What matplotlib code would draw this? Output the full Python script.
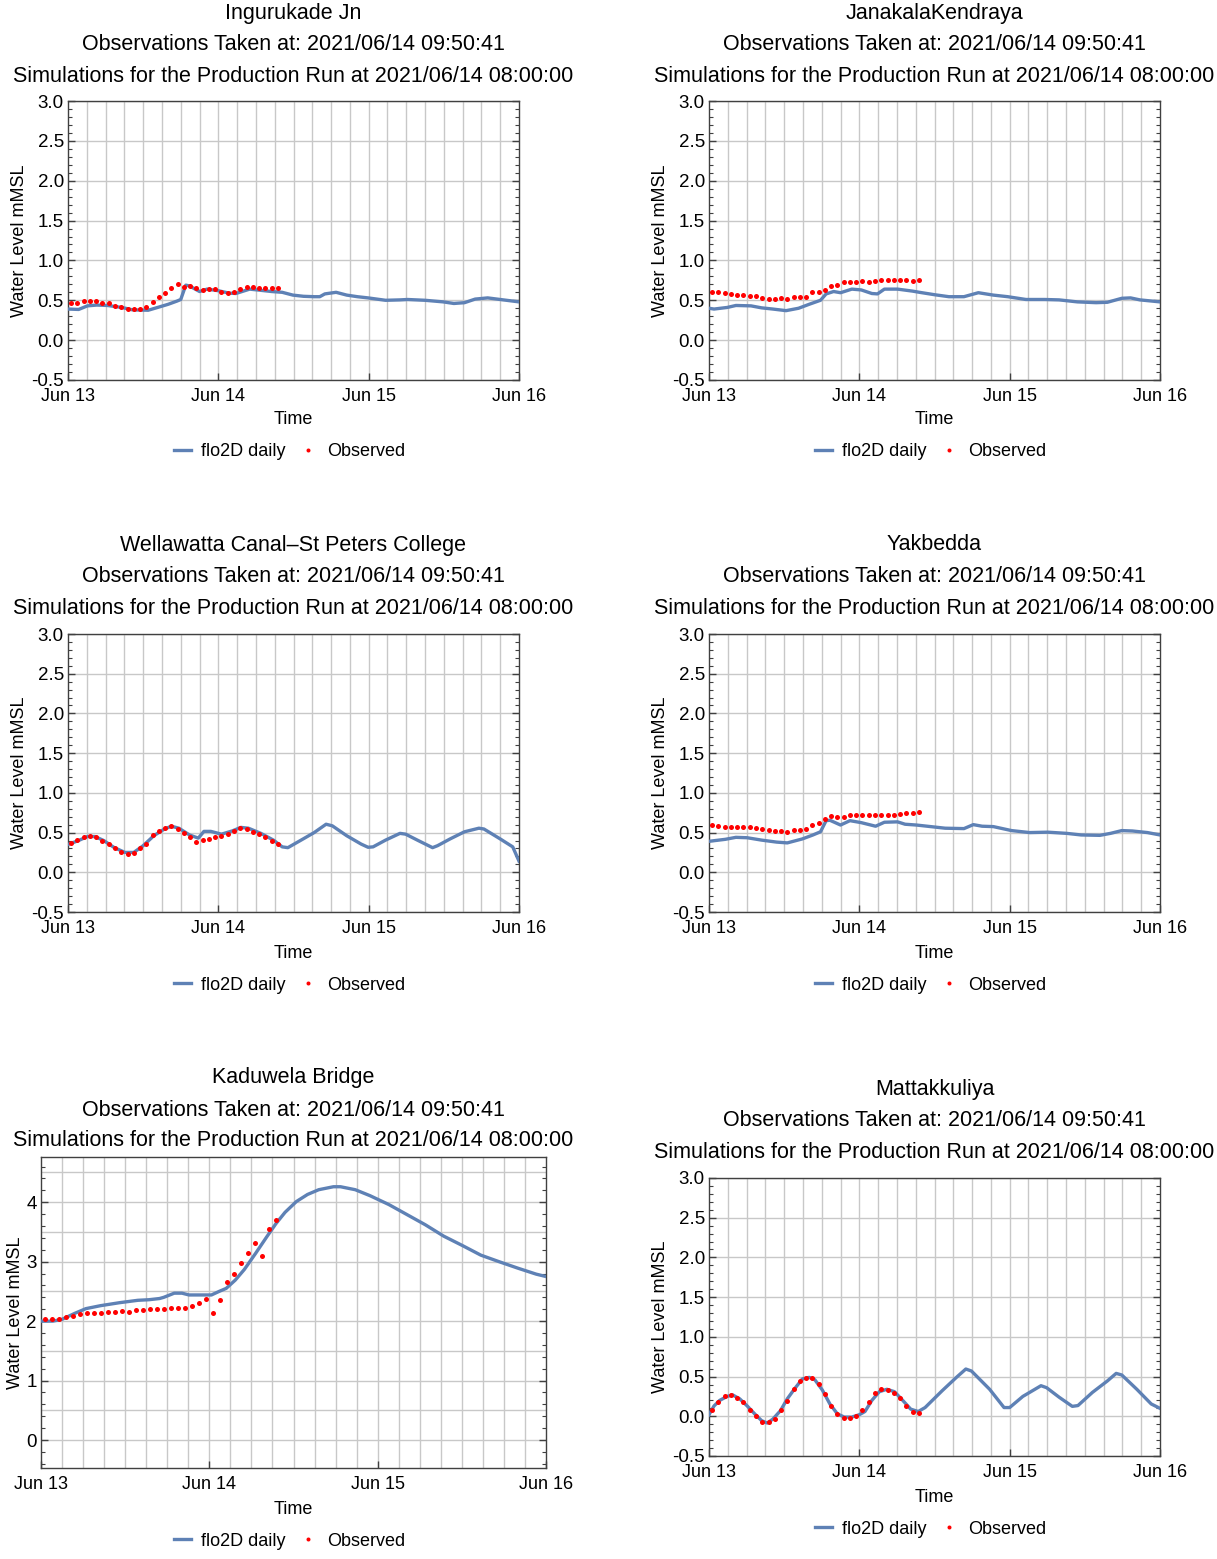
import numpy as np
import matplotlib
matplotlib.use('Agg')
import matplotlib.pyplot as plt
from matplotlib.ticker import MultipleLocator, FixedLocator, FormatStrFormatter

plt.rcParams['font.family'] = ['Liberation Sans', 'DejaVu Sans']

W, H = 1217, 1559

obs_taken = "Observations Taken at: 2021/06/14 09:50:41"
sim_run = "Simulations for the Production Run at 2021/06/14 08:00:00"
day_ticks = [0, 24, 48, 72]
day_labels = ["Jun 13", "Jun 14", "Jun 15", "Jun 16"]

# hourly observations, hours after Jun 13 00:00
obs_hours = np.arange(34) + 0.5

# ---- Ingurukade Jn
ing_sim_h = [0, 1.7, 3.1, 4.6, 6.3, 8.6, 10.3, 12.8, 14.3, 16, 17.4, 18, 18.8, 19.4, 21, 22.2, 24,
             25.7, 26.8, 29, 30.2, 32.5, 34.2, 35.9, 37.6, 39.3, 40.2, 41, 42.8, 44.5, 46.2, 47.9,
             50.7, 53, 54.2, 57, 59.9, 61.6, 63.3, 65, 67, 69, 72]
ing_sim = [0.39, 0.385, 0.43, 0.44, 0.435, 0.41, 0.38, 0.375, 0.41, 0.45, 0.49, 0.51, 0.69, 0.68,
           0.61, 0.64, 0.62, 0.59, 0.585, 0.64, 0.63, 0.61, 0.60, 0.565, 0.55, 0.545, 0.545, 0.58,
           0.60, 0.565, 0.545, 0.53, 0.50, 0.505, 0.51, 0.50, 0.48, 0.46, 0.47, 0.515, 0.53, 0.51, 0.48]
ing_obs = [0.47, 0.47, 0.49, 0.49, 0.49, 0.47, 0.46, 0.43, 0.41, 0.39, 0.39, 0.39, 0.42, 0.48,
           0.535, 0.59, 0.65, 0.70, 0.67, 0.68, 0.66, 0.63, 0.64, 0.64, 0.61, 0.59, 0.61, 0.64,
           0.67, 0.67, 0.66, 0.66, 0.65, 0.66]

# ---- JanakalaKendraya
jan_sim_h = [0, 0.8, 2.9, 4.3, 6.7, 8.4, 10.2, 12.3, 14.3, 16, 17.8, 18.7, 19.9, 21, 22.8, 24.3,
             26, 26.9, 28, 30.1, 32.5, 33.6, 36, 38.3, 40.7, 43, 45.4, 47.7, 50.6, 53.6, 55.9,
             58.8, 61.8, 63.6, 65.9, 67.3, 68.8, 72]
jan_sim = [0.40, 0.39, 0.41, 0.435, 0.43, 0.405, 0.39, 0.37, 0.40, 0.45, 0.50, 0.58, 0.61, 0.595,
           0.64, 0.63, 0.585, 0.58, 0.64, 0.64, 0.615, 0.60, 0.57, 0.545, 0.545, 0.595, 0.565,
           0.545, 0.51, 0.51, 0.505, 0.48, 0.47, 0.475, 0.525, 0.53, 0.505, 0.48]
jan_obs = [0.60, 0.60, 0.595, 0.585, 0.57, 0.565, 0.555, 0.555, 0.53, 0.515, 0.52, 0.525, 0.51,
           0.535, 0.535, 0.545, 0.60, 0.605, 0.635, 0.68, 0.695, 0.725, 0.73, 0.735, 0.74, 0.735,
           0.74, 0.75, 0.75, 0.755, 0.755, 0.755, 0.745, 0.76]

# ---- Wellawatta Canal-St Peters College
wel_sim_h = [0, 1.7, 3.1, 4.3, 5.7, 7.4, 9.1, 10.5, 12, 13.7, 15.4, 16.5, 17.7, 19.4, 20.8, 21.7,
             22.8, 24.5, 26.2, 27.6, 28.8, 30.8, 32.8, 34.2, 35.1, 37.1, 39.3, 41.2, 42.2, 44.5,
             46.8, 47.9, 48.7, 50.7, 53, 53.9, 55.9, 58.2, 59, 61, 63.3, 65.6, 66.4, 69, 71, 72]
wel_sim = [0.35, 0.40, 0.45, 0.45, 0.40, 0.31, 0.25, 0.25, 0.335, 0.46, 0.545, 0.58, 0.555, 0.47,
           0.43, 0.515, 0.515, 0.48, 0.52, 0.565, 0.555, 0.49, 0.405, 0.32, 0.31, 0.40, 0.50,
           0.605, 0.585, 0.46, 0.355, 0.315, 0.32, 0.405, 0.49, 0.48, 0.40, 0.31, 0.335, 0.42,
           0.51, 0.555, 0.545, 0.42, 0.32, 0.14]
wel_obs = [0.37, 0.41, 0.45, 0.455, 0.44, 0.40, 0.35, 0.30, 0.26, 0.235, 0.245, 0.31, 0.36, 0.47,
           0.52, 0.555, 0.585, 0.54, 0.49, 0.45, 0.385, 0.405, 0.415, 0.44, 0.455, 0.485, 0.52,
           0.555, 0.55, 0.51, 0.48, 0.44, 0.40, 0.355]

# ---- Yakbedda
yak_sim_h = [0, 2.6, 4.3, 6.1, 8.4, 10.8, 12.5, 14.9, 16.6, 17.8, 18.7, 19.3, 21, 22.5, 24.3,
             26.6, 28, 30.1, 31.3, 33.1, 35.4, 37.7, 40.7, 42.2, 43.6, 45.4, 48.3, 51.2, 54.1,
             57.1, 59.4, 62.4, 64.1, 65.9, 67.6, 70, 72]
yak_sim = [0.39, 0.415, 0.44, 0.435, 0.405, 0.38, 0.37, 0.42, 0.47, 0.51, 0.65, 0.655, 0.595,
           0.65, 0.625, 0.58, 0.63, 0.635, 0.605, 0.595, 0.575, 0.555, 0.55, 0.60, 0.58, 0.575,
           0.525, 0.50, 0.505, 0.49, 0.47, 0.465, 0.49, 0.525, 0.52, 0.50, 0.47]
yak_obs = [0.59, 0.58, 0.565, 0.565, 0.565, 0.565, 0.565, 0.555, 0.545, 0.53, 0.525, 0.515,
           0.51, 0.53, 0.535, 0.54, 0.595, 0.625, 0.67, 0.71, 0.69, 0.70, 0.725, 0.725, 0.725,
           0.725, 0.725, 0.725, 0.725, 0.725, 0.735, 0.745, 0.745, 0.76]

# ---- Kaduwela Bridge
kad_sim_h = [0, 1.7, 3, 4.8, 6.4, 8.5, 11.2, 13.8, 15.4, 16.9, 17.5, 19, 20.1, 21.1, 22.7, 24.3,
             25.4, 26.4, 27.7, 29, 30.6, 32.2, 33.5, 34.8, 36.4, 38, 39.6, 41.7, 42.7, 44.8, 46.9,
             49.6, 52.2, 54.8, 57.4, 60.1, 62.7, 65.3, 68, 70.6, 72]
kad_sim = [2.0, 2.0, 2.03, 2.13, 2.21, 2.26, 2.31, 2.35, 2.36, 2.38, 2.40, 2.47, 2.47, 2.44, 2.44,
           2.44, 2.50, 2.55, 2.69, 2.87, 3.14, 3.42, 3.64, 3.83, 4.01, 4.13, 4.21, 4.26, 4.26,
           4.21, 4.11, 3.96, 3.79, 3.62, 3.43, 3.27, 3.11, 3.00, 2.89, 2.79, 2.75]
kad_obs = [2.03, 2.03, 2.03, 2.07, 2.09, 2.12, 2.13, 2.13, 2.14, 2.15, 2.16, 2.17, 2.16, 2.18,
           2.18, 2.20, 2.20, 2.20, 2.22, 2.22, 2.22, 2.26, 2.30, 2.37, 2.13, 2.35, 2.66, 2.79,
           2.97, 3.14, 3.31, 3.09, 3.55, 3.70]

# ---- Mattakkuliya
mat_sim_h = [0, 0.8, 1.7, 2.9, 3.75, 4.9, 6.1, 7.3, 8.4, 9.3, 10.2, 11.4, 12.5, 13.7, 14.9, 16,
             16.9, 18.1, 19.3, 20.5, 21.6, 22.8, 24, 24.9, 26, 27.2, 28.4, 29.6, 30.7, 32.2, 33.4,
             34.5, 37.2, 39.5, 41, 41.9, 44.8, 47.1, 48, 50.1, 53, 53.9, 55.9, 58, 58.9, 61.2,
             63.6, 65, 65.9, 68.3, 70.6, 72]
mat_sim = [0.02, 0.13, 0.20, 0.25, 0.27, 0.22, 0.13, 0.03, -0.055, -0.085, -0.035, 0.07, 0.22,
           0.35, 0.47, 0.49, 0.46, 0.33, 0.155, 0.03, -0.01, -0.01, 0.02, 0.06, 0.20, 0.31, 0.34,
           0.31, 0.22, 0.09, 0.06, 0.11, 0.32, 0.49, 0.595, 0.57, 0.34, 0.11, 0.11, 0.25, 0.385,
           0.36, 0.24, 0.125, 0.135, 0.30, 0.445, 0.54, 0.52, 0.34, 0.155, 0.10]
mat_obs = [0.085, 0.185, 0.26, 0.27, 0.235, 0.175, 0.085, 0.0, -0.075, -0.075, -0.035, 0.085,
           0.195, 0.345, 0.44, 0.485, 0.48, 0.41, 0.285, 0.135, 0.03, -0.025, -0.025, 0.0, 0.085,
           0.185, 0.29, 0.345, 0.335, 0.29, 0.225, 0.135, 0.05, 0.04]

stations = [
    # name, sim hours, sim, obs, axes box px (x0, x1, y_top, y_bottom), title line ys, time y, legend y,
    # ylim, y major step, y minor step, grid step, tick format
    ("Ingurukade Jn", ing_sim_h, ing_sim, ing_obs, (68, 519, 101, 380), (13, 44, 76), 420, 452,
     (-0.5, 3.0), 0.5, 0.1, 0.5, '%.1f'),
    ("JanakalaKendraya", jan_sim_h, jan_sim, jan_obs, (709, 1160, 101, 380), (13, 44, 76), 420, 452,
     (-0.5, 3.0), 0.5, 0.1, 0.5, '%.1f'),
    ("Wellawatta Canal\u2013St Peters College", wel_sim_h, wel_sim, wel_obs, (68, 519, 634, 912),
     (545, 577, 609), 953, 985, (-0.5, 3.0), 0.5, 0.1, 0.5, '%.1f'),
    ("Yakbedda", yak_sim_h, yak_sim, yak_obs, (709, 1160, 634, 912), (545, 577, 609), 953, 985,
     (-0.5, 3.0), 0.5, 0.1, 0.5, '%.1f'),
    ("Kaduwela Bridge", kad_sim_h, kad_sim, kad_obs, (41, 546, 1157, 1468), (1078, 1110, 1141), 1509, 1541,
     (-0.47, 4.76), 1.0, 0.2, 0.5, '%d'),
    ("Mattakkuliya", mat_sim_h, mat_sim, mat_obs, (709, 1160, 1178, 1456), (1089, 1121, 1153), 1497, 1529,
     (-0.5, 3.0), 0.5, 0.1, 0.5, '%.1f'),
]

blue = '#5E81B5'
grid_col = '#c8c8c8'
frame_col = '#404040'

fig = plt.figure(figsize=(W / 100, H / 100), dpi=100)

for (name, sh, sv, ov, box, tys, time_y, leg_y, ylim, ymaj, ymin, gstep, fmt) in stations:
    x0, x1, yt, yb = box
    ax = fig.add_axes([x0 / W, 1 - yb / H, (x1 - x0) / W, (yb - yt) / H])
    ax.set_xlim(0, 72)
    ax.set_ylim(*ylim)

    for gx in np.arange(3, 72, 3):
        ax.axvline(gx, color=grid_col, lw=1.0, zorder=0)
    for gy in np.arange(np.ceil(ylim[0] / gstep) * gstep, ylim[1] + 1e-9, gstep):
        ax.axhline(gy, color=grid_col, lw=1.0, zorder=0)

    ln, = ax.plot(sh, sv, color=blue, lw=2.4, solid_joinstyle='round', zorder=3)
    dt, = ax.plot(obs_hours, ov, 'o', color='red', ms=3.6, mew=0, zorder=4)

    ax.xaxis.set_major_locator(FixedLocator(day_ticks))
    ax.set_xticklabels(day_labels, fontsize=13)
    ax.yaxis.set_major_locator(MultipleLocator(ymaj))
    ax.yaxis.set_minor_locator(MultipleLocator(ymin))
    ax.yaxis.set_major_formatter(FormatStrFormatter(fmt))
    ax.tick_params(axis='y', which='both', direction='in', left=True, right=True, labelsize=13.5, pad=3,
                   color=frame_col)
    ax.tick_params(axis='y', which='major', length=5, width=1)
    ax.tick_params(axis='y', which='minor', length=3, width=0.8)
    ax.tick_params(axis='x', which='major', direction='in', length=5, width=1, pad=6, color=frame_col)
    for sp in ax.spines.values():
        sp.set_color(frame_col)
        sp.set_linewidth(1.0)
    ax.set_ylabel("Water Level mMSL", fontsize=13, labelpad=2)

    cx = (x0 + x1) / 2 / W
    fig.text(cx, 1 - tys[0] / H, name, ha='center', va='center', fontsize=15.5)
    fig.text(cx, 1 - tys[1] / H, obs_taken, ha='center', va='center', fontsize=15.5)
    fig.text(cx, 1 - tys[2] / H, sim_run, ha='center', va='center', fontsize=15.5)
    fig.text(cx, 1 - time_y / H, "Time", ha='center', va='center', fontsize=13)
    fig.legend([ln, dt], ["flo2D daily", "Observed"], loc='center', ncol=2, frameon=False,
               bbox_to_anchor=(cx - 4 / W, 1 - leg_y / H), fontsize=13, handlelength=0.95,
               handletextpad=0.55, columnspacing=0.8, markerscale=0.8)

fig.savefig('out.png', dpi=100)
